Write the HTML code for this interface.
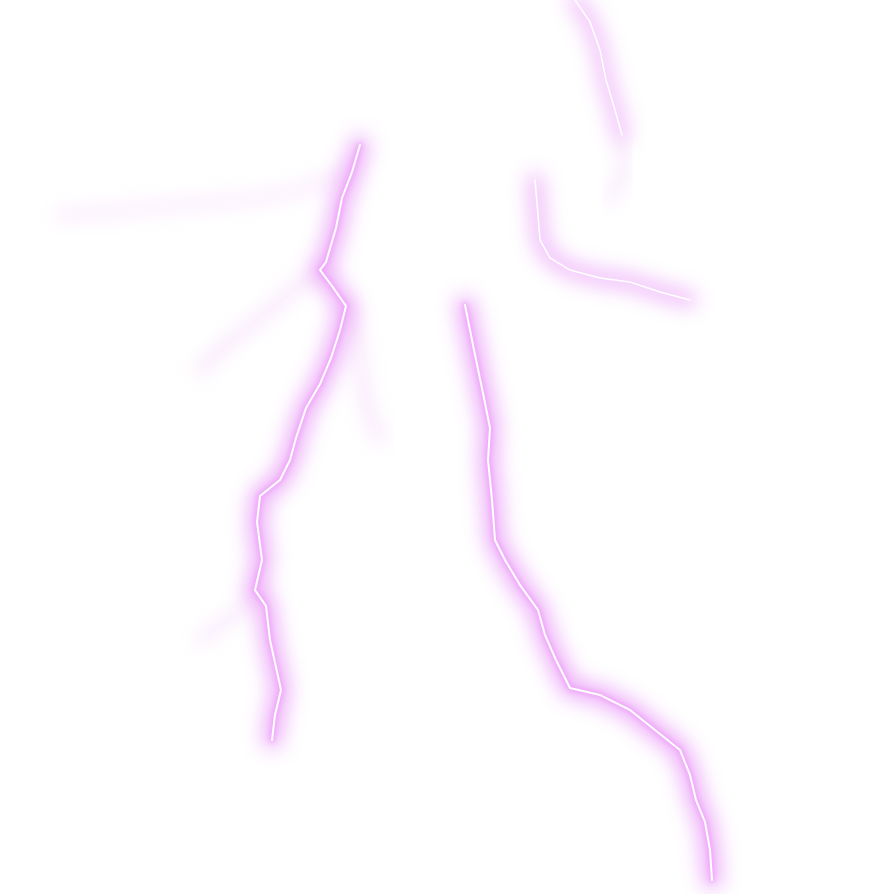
<!DOCTYPE html>
<html>
<head>
<meta charset="utf-8">
<style>
  html,body{margin:0;padding:0;background:#ffffff;}
  svg{display:block;}
</style>
</head>
<body>
<svg width="894" height="894" viewBox="0 0 894 894">
  <defs>
    <filter id="glowWide" x="-50%" y="-50%" width="200%" height="200%">
      <feGaussianBlur stdDeviation="10"/>
    </filter>
    <filter id="glowNarrow" x="-50%" y="-50%" width="200%" height="200%">
      <feGaussianBlur stdDeviation="3"/>
    </filter>
    <filter id="faint" x="-50%" y="-50%" width="200%" height="200%">
      <feGaussianBlur stdDeviation="9"/>
    </filter>
  </defs>
  <rect width="894" height="894" fill="#ffffff"/>

  <g fill="none" stroke-linecap="round" stroke-linejoin="round" opacity="0.55">
    <path d="M345,172 L300,190 L250,200 L180,205 L110,212 L60,215" stroke="#f6dcfa" stroke-width="12" filter="url(#faint)"/>
    <path d="M320,270 L295,288 L270,310 L245,330 L220,350 L200,370" stroke="#f3d0f8" stroke-width="12" filter="url(#faint)"/>
    <path d="M350,305 L358,340 L362,380 L368,410 L380,440" stroke="#f0c8f7" stroke-width="10" filter="url(#faint)"/>
    <path d="M258,590 L240,610 L215,630 L200,640" stroke="#f3d0f8" stroke-width="10" filter="url(#faint)"/>
    <path d="M620,140 L625,170 L610,200" stroke="#f3d0f8" stroke-width="10" filter="url(#faint)"/>
  </g>

  <g fill="none" stroke-linecap="round" stroke-linejoin="round">
    <path d="M360,145 L352,172 L342,198 L336,228 L326,262 L320,270 L332,286 L346,306 L340,330 L331,358 L320,384 L306,408 L296,438 L290,460 L280,480 L260,496 L257,522 L262,560 L255,590 L266,606 L270,640 L281,690 L275,715 L272,740" stroke="#e070f4" stroke-width="18" filter="url(#glowWide)" opacity="0.6"/>
    <path d="M360,145 L352,172 L342,198 L336,228 L326,262 L320,270 L332,286 L346,306 L340,330 L331,358 L320,384 L306,408 L296,438 L290,460 L280,480 L260,496 L257,522 L262,560 L255,590 L266,606 L270,640 L281,690 L275,715 L272,740" stroke="#ee9cf9" stroke-width="5" filter="url(#glowNarrow)"/>
    <path d="M360,145 L352,172 L342,198 L336,228 L326,262 L320,270 L332,286 L346,306 L340,330 L331,358 L320,384 L306,408 L296,438 L290,460 L280,480 L260,496 L257,522 L262,560 L255,590 L266,606 L270,640 L281,690 L275,715 L272,740" stroke="#ffffff" stroke-width="2"/>
  </g>

  <g fill="none" stroke-linecap="round" stroke-linejoin="round">
    <path d="M465,305 L474,350 L484,398 L490,428 L488,460 L492,500 L495,540 L505,560 L520,585 L538,610 L545,635 L556,660 L570,688 L600,695 L630,710 L655,730 L680,750 L690,775 L696,800 L705,822 L710,850 L712,880" stroke="#e070f4" stroke-width="18" filter="url(#glowWide)" opacity="0.6"/>
    <path d="M465,305 L474,350 L484,398 L490,428 L488,460 L492,500 L495,540 L505,560 L520,585 L538,610 L545,635 L556,660 L570,688 L600,695 L630,710 L655,730 L680,750 L690,775 L696,800 L705,822 L710,850 L712,880" stroke="#ee9cf9" stroke-width="5" filter="url(#glowNarrow)"/>
    <path d="M465,305 L474,350 L484,398 L490,428 L488,460 L492,500 L495,540 L505,560 L520,585 L538,610 L545,635 L556,660 L570,688 L600,695 L630,710 L655,730 L680,750 L690,775 L696,800 L705,822 L710,850 L712,880" stroke="#ffffff" stroke-width="2"/>
  </g>

  <g fill="none" stroke-linecap="round" stroke-linejoin="round">
    <path d="M575,0 L590,22 L600,50 L606,80 L615,110 L622,135" stroke="#e070f4" stroke-width="14" filter="url(#glowWide)" opacity="0.5"/>
    <path d="M575,0 L590,22 L600,50 L606,80 L615,110 L622,135" stroke="#ffffff" stroke-width="1.5"/>
  </g>

  <g fill="none" stroke-linecap="round" stroke-linejoin="round">
    <path d="M535,180 L538,215 L540,240 L550,258 L570,270 L600,278 L630,282 L660,292 L690,300" stroke="#e070f4" stroke-width="14" filter="url(#glowWide)" opacity="0.55"/>
    <path d="M535,180 L538,215 L540,240 L550,258 L570,270 L600,278 L630,282 L660,292 L690,300" stroke="#ffffff" stroke-width="1.5"/>
  </g>
</svg>
</body>
</html>
